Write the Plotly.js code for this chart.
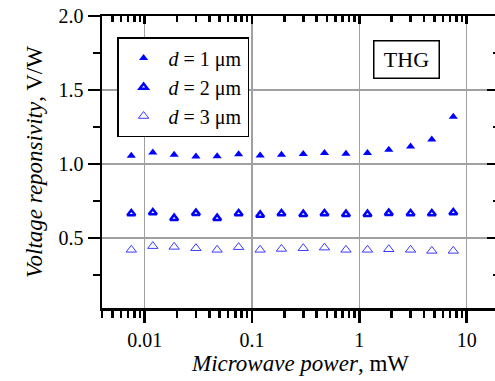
<!DOCTYPE html>
<html>
<head>
<meta charset="utf-8">
<script src="https://cdn.plot.ly/plotly-3.0.1.min.js"></script>
<style>
html,body{margin:0;padding:0;overflow:hidden;background:#fff;width:495px;height:381px;}
#chart{width:500px;height:381px;}
</style>
</head>
<body>
<div id="chart"></div>
<script>
// Microwave power, mW
const power = [0.0075, 0.0119, 0.0188, 0.0300, 0.0473, 0.0750, 0.119, 0.188, 0.300, 0.473, 0.750, 1.19, 1.88, 3.00, 4.73, 7.50];
// Voltage responsivity, V/W
const d1 = [1.055, 1.077, 1.062, 1.050, 1.053, 1.066, 1.057, 1.062, 1.068, 1.075, 1.070, 1.075, 1.097, 1.118, 1.165, 1.320];
const d2 = [0.665, 0.672, 0.634, 0.668, 0.634, 0.665, 0.656, 0.665, 0.661, 0.665, 0.661, 0.661, 0.668, 0.665, 0.665, 0.672];
const d3 = [0.420, 0.445, 0.440, 0.431, 0.420, 0.438, 0.420, 0.426, 0.431, 0.435, 0.420, 0.420, 0.424, 0.420, 0.413, 0.413];
const seriesNames = ['<i>d</i> = 1 μm', '<i>d</i> = 2 μm', '<i>d</i> = 3 μm'];
const xTickVals = [0.01, 0.1, 1, 10];
const xTickText = ['0.01', '0.1', '1', '10'];
const yTickVals = [0.5, 1.0, 1.5, 2.0];
const yTickText = ['0.5', '1.0', '1.5', '2.0'];

const FONT = 'Liberation Serif, Times New Roman, serif';
const xRange = [Math.log10(0.004), Math.log10(20)];
const yRange = [0.027, 2.0];

const traces = [
  {x: power, y: d1, name: seriesNames[0], type: 'scatter', mode: 'markers',
   marker: {symbol: 'triangle-up', size: 8, color: '#0000ff', line: {width: 0}}},
  {x: power, y: d2, name: seriesNames[1], type: 'scatter', mode: 'markers',
   marker: {symbol: 'triangle-up-open', size: 7, color: '#0000ff', line: {width: 2.5, color: '#0000ff'}}},
  {x: power, y: d3, name: seriesNames[2], type: 'scatter', mode: 'markers',
   marker: {symbol: 'triangle-up-open', size: 9, color: '#3a3aff', line: {width: 1, color: '#3a3aff'}}},
  {x: [], y: [], xaxis: 'x2', yaxis: 'y2', showlegend: false, hoverinfo: 'skip', type: 'scatter', mode: 'markers'}
];

const layout = {
  width: 500, height: 381,
  margin: {l: 102, r: 1, t: 16, b: 73},
  paper_bgcolor: '#fff', plot_bgcolor: '#fff',
  font: {family: FONT, size: 20, color: '#000'},
  showlegend: true,
  legend: {x: 0.038, y: 0.928, xanchor: 'left', yanchor: 'top',
           bordercolor: '#000', borderwidth: 1.5, bgcolor: '#fff',
           font: {family: FONT, size: 20, color: '#000'}, tracegroupgap: 0,
           itemwidth: 40},
  xaxis: {type: 'log', range: xRange, tickvals: xTickVals, ticktext: xTickText,
          ticks: 'outside', ticklen: 12, tickwidth: 2.5, tickcolor: '#000',
          showline: true, linewidth: 2.5, linecolor: '#000',
          showgrid: true, gridcolor: '#a0a0a0', gridwidth: 1.5, zeroline: false,
          minor: {dtick: 'D1', ticks: 'outside', ticklen: 7, tickwidth: 2.5, tickcolor: '#000', showgrid: false},
          tickfont: {family: FONT, size: 20},
          title: {text: '<i>Microwave power</i>, mW', font: {family: FONT, size: 23}, standoff: 6}},
  yaxis: {range: yRange, tickvals: yTickVals, ticktext: yTickText,
          ticks: 'outside', ticklen: 12, tickwidth: 2.5, tickcolor: '#000',
          showline: true, linewidth: 2.5, linecolor: '#000',
          showgrid: true, gridcolor: '#a0a0a0', gridwidth: 1.5, zeroline: false,
          minor: {dtick: 0.25, ticks: 'outside', ticklen: 7, tickwidth: 2.5, tickcolor: '#000', showgrid: false},
          tickfont: {family: FONT, size: 20},
          title: {text: '<i>Voltage reponsivity</i>, V/W', font: {family: FONT, size: 23}, standoff: 10}},
  xaxis2: {type: 'log', range: xRange, overlaying: 'x', side: 'top', anchor: 'y2',
           tickvals: xTickVals, showticklabels: false,
           ticks: 'inside', ticklen: 8, tickwidth: 2.5, tickcolor: '#000',
           showline: true, linewidth: 2.5, linecolor: '#000', showgrid: false, zeroline: false,
           minor: {dtick: 'D1', ticks: 'inside', ticklen: 6, tickwidth: 2.5, tickcolor: '#000', showgrid: false}},
  yaxis2: {range: yRange, overlaying: 'y', side: 'right', anchor: 'x2',
           tickvals: yTickVals, showticklabels: false,
           ticks: 'inside', ticklen: 12, tickwidth: 2.5, tickcolor: '#000',
           showline: true, linewidth: 2.5, linecolor: '#000', showgrid: false, zeroline: false,
           minor: {dtick: 0.25, ticks: 'inside', ticklen: 6, tickwidth: 2.5, tickcolor: '#000', showgrid: false}},
  annotations: [{text: 'THG', xref: 'paper', yref: 'paper', x: 0.768, y: 0.851,
                 xanchor: 'center', yanchor: 'middle', showarrow: false,
                 font: {family: FONT, size: 22, color: '#000'},
                 bordercolor: '#000', borderwidth: 1.5, borderpad: 6, bgcolor: '#fff',
                 width: 52, height: 24}]
};

Plotly.newPlot('chart', traces, layout, {displayModeBar: false, staticPlot: true});
</script>
</body>
</html>
